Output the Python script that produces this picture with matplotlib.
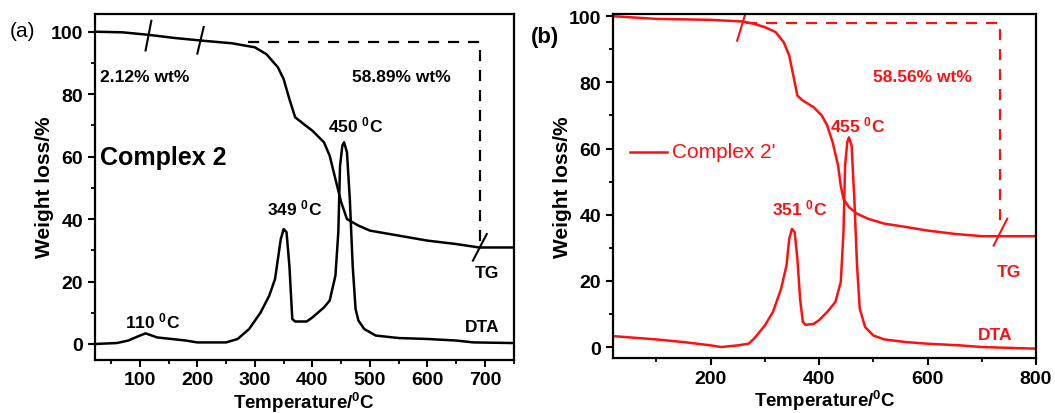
import matplotlib
matplotlib.use('Agg')
import matplotlib.pyplot as plt

# panel (a) - complex 2
tgA_x = [22, 70, 115, 160, 210, 260, 300, 320, 340, 350, 360, 370, 385, 400, 420, 430, 440, 450, 460, 480, 500, 550, 600, 650, 690, 750]
tgA_y = [100, 99.8, 99.0, 98.0, 97.1, 96.3, 95.0, 92.8, 88.6, 84.8, 78.4, 72.6, 70.4, 68.3, 64.6, 60.3, 52.8, 45.4, 40.0, 37.9, 36.3, 34.7, 33.1, 32.0, 30.9, 30.9]
dtaA_x = [22, 60, 80, 95, 110, 130, 180, 200, 250, 270, 290, 310, 325, 335, 345, 350, 355, 360, 365, 370, 390, 400, 420, 430, 440, 445, 448, 452, 455, 460, 465, 470, 475, 480, 490, 510, 550, 600, 650, 680, 750]
dtaA_y = [0, 0.3, 1.1, 2.3, 3.4, 2.1, 1.1, 0.5, 0.5, 1.6, 4.8, 10.1, 15.5, 20.8, 33.6, 36.8, 35.8, 25.0, 8.0, 7.2, 7.2, 8.5, 11.7, 13.9, 21.9, 35.8, 57.0, 63.5, 64.6, 61.4, 46.4, 25.0, 11.2, 7.5, 4.8, 2.7, 1.9, 1.6, 1.1, 0.5, 0.3]

# panel (b) - complex 2'
tgB_x = [20, 100, 200, 260, 280, 300, 320, 335, 345, 350, 355, 360, 370, 390, 405, 415, 425, 435, 440, 445, 455, 470, 490, 520, 560, 600, 650, 700, 800]
tgB_y = [100, 99.2, 98.9, 98.4, 97.7, 96.7, 95.2, 92.1, 88.1, 84.1, 80.1, 76.0, 74.5, 72.5, 70.0, 67.0, 61.9, 54.9, 48.8, 44.8, 42.3, 40.3, 38.8, 37.3, 36.3, 35.2, 34.2, 33.5, 33.5]
dtaB_x = [20, 100, 150, 200, 220, 250, 270, 280, 300, 315, 330, 340, 345, 350, 355, 360, 365, 370, 375, 390, 400, 415, 430, 440, 445, 448, 452, 455, 460, 465, 470, 475, 485, 500, 520, 560, 600, 660, 700, 800]
dtaB_y = [3.3, 2.3, 1.5, 0.5, 0, 0.5, 1.0, 2.5, 6.5, 10.6, 17.6, 24.7, 32.7, 35.7, 34.7, 26.7, 14.6, 7.6, 6.7, 7.0, 8.1, 10.6, 13.6, 19.6, 34.7, 54.9, 61.9, 63.4, 60.9, 44.8, 24.7, 11.6, 6.0, 3.5, 2.3, 1.5, 1.0, 0.5, 0, -0.5]

# step guides (dashed) and break marks
guideA_x = [288, 691, 691]
guideA_y = [96.6, 96.6, 31.5]
guideB_x = [266, 734, 734]
guideB_y = [98.0, 98.0, 35.7]
slashesA = [((110, 120), (94, 103.5)), ((200, 211), (93, 101.5)), ((679, 703), (26.7, 35.2))]
slashesB = [((249, 264), (92.6, 100.7)), ((722, 747), (30.7, 38.8))]

plt.rcParams['font.family'] = ['Liberation Sans', 'DejaVu Sans']
plt.rcParams['font.weight'] = 'bold'
plt.rcParams['axes.labelweight'] = 'bold'
plt.rcParams['mathtext.fontset'] = 'custom'
plt.rcParams['mathtext.rm'] = 'Liberation Sans:bold'
plt.rcParams['mathtext.default'] = 'rm'

fig = plt.figure(figsize=(10.55, 4.14), dpi=100)
axA = fig.add_axes([0.090, 0.129, 0.397, 0.835])
axB = fig.add_axes([0.581, 0.133, 0.401, 0.831])

def style(ax, xlim, ylim, xmaj, xmin):
    ax.set_xlim(*xlim)
    ax.set_ylim(*ylim)
    ax.set_xticks(xmaj)
    ax.set_xticks(xmin, minor=True)
    ax.set_yticks(range(0, 101, 20))
    ax.set_yticks(range(10, 100, 20), minor=True)
    for s in ax.spines.values():
        s.set_linewidth(1.6)
    ax.tick_params(which='major', direction='out', length=5, width=1.5, labelsize=14)
    ax.tick_params(which='minor', direction='out', length=3, width=1.3)
    ax.set_xlabel('Temperature/$^0$C', fontsize=13.5, labelpad=1)
    ax.set_ylabel('Weight loss/%', fontsize=15, labelpad=-2)

lbl = dict(fontsize=12.5, va='baseline')

# (a)
k = 'black'
axA.plot(tgA_x, tgA_y, color=k, lw=1.8)
axA.plot(dtaA_x, dtaA_y, color=k, lw=1.8)
axA.plot(guideA_x, guideA_y, color=k, lw=1.6, ls=(0, (5, 4)))
for sx, sy in slashesA:
    axA.plot(sx, sy, color=k, lw=1.5)
style(axA, (22, 750), (-5, 105.7), range(100, 701, 100), range(50, 751, 100))
axA.text(31, 84.2, '2.12% wt%', **lbl)
axA.text(468, 84.2, '58.89% wt%', **lbl)
axA.text(31, 57.7, 'Complex 2', fontsize=18, va='baseline')
axA.text(427, 68.2, '450 $^0$C', **lbl)
axA.text(321, 41.6, '349 $^0$C', **lbl)
axA.text(74, 5.4, '110 $^0$C', **lbl)
axA.text(682, 21.5, 'TG', **lbl)
axA.text(665, 4.2, 'DTA', **lbl)
fig.text(0.009, 0.91, '(a)', fontsize=15, fontweight='normal')

# (b)
r = '#ff1010'
axB.plot(tgB_x, tgB_y, color=r, lw=1.8)
axB.plot(dtaB_x, dtaB_y, color=r, lw=1.8)
axB.plot(guideB_x, guideB_y, color=r, lw=1.6, ls=(0, (5, 4)))
for sx, sy in slashesB:
    axB.plot(sx, sy, color=r, lw=1.5)
style(axB, (20, 800), (-3.3, 100.7), range(200, 801, 200), range(100, 800, 200))
axB.text(499, 80.4, '58.56% wt%', color=r, **lbl)
axB.text(420, 65.3, '455 $^0$C', color=r, **lbl)
axB.text(313, 40.2, '351 $^0$C', color=r, **lbl)
axB.text(728, 21.5, 'TG', color=r, **lbl)
axB.text(693, 2.5, 'DTA', color=r, **lbl)
axB.plot([51, 119], [59, 59], color=r, lw=1.8)
axB.text(129, 59, "Complex 2'", fontsize=15, color=r, fontweight='normal', va='center')
fig.text(0.503, 0.895, '(b)', fontsize=16)

fig.savefig('out.png', dpi=100)
